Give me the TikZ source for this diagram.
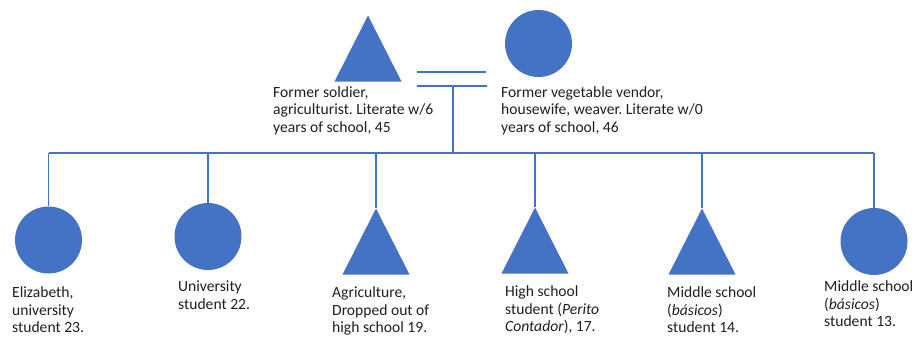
\documentclass[tikz,border=0pt]{standalone}
\usepackage{fontspec}
\setmainfont{Carlito}
\frenchspacing
\usetikzlibrary{shapes.geometric}
\definecolor{kinblue}{HTML}{4472C4}
\definecolor{kintext}{HTML}{1F1F1F}
\begin{document}
\begin{tikzpicture}[x=1pt,y=-1pt,
  kinline/.style={draw=kinblue, line width=1.8pt},
  female/.style={circle, fill=kinblue, minimum size=67pt, inner sep=0pt},
  male/.style={isosceles triangle, isosceles triangle stretches,
    shape border rotate=90, fill=kinblue, minimum width=67pt,
    minimum height=66pt, inner sep=0pt, anchor=apex},
  caption/.style={align=left, anchor=north west, inner sep=0pt,
    font=\fontsize{15.6}{17.7}\selectfont, text=kintext}]
\useasboundingbox (0,0) rectangle (917,337);

% parents
\node[male] (father) at (368,15) {};
\node[female] (mother) at (538.5,43.5) {};
\node[caption] (fatherlbl) at (273,86)
  {Former soldier,\\agriculturist. Literate w/6\\years of school, 45};
\node[caption] (motherlbl) at (501,86)
  {Former vegetable vendor,\\housewife, weaver. Literate w/0\\years of school, 46};

% marriage sign and line of descent
\coordinate (ma) at (417,72);
\coordinate (mb) at (486,72);
\coordinate (mc) at (417,86);
\coordinate (md) at (487,86);
\coordinate (drop) at (453,86);
\coordinate (bar) at (453,153);
\draw[kinline] (ma) -- (mb);
\draw[kinline] (mc) -- (md);
\draw[kinline] (drop) -- (bar);

% children
\node[female] (c1) at (48.5,240) {};
\node[female] (c2) at (208,236.5) {};
\node[male] (c3) at (376,208) {};
\node[male] (c4) at (535,207) {};
\node[male] (c5) at (702,208) {};
\node[female] (c6) at (874,241.5) {};

\draw[kinline] (c1.north |- bar) -- (c6.north |- bar);
\foreach \c in {c1,c2,c6} \draw[kinline] (\c.north |- bar) -- (\c.north);
\foreach \c in {c3,c4,c5} \draw[kinline] (\c.apex |- bar) -- (\c.apex);

\node[caption] (c1lbl) at (12,286.5) {Elizabeth,\\university\\student 23.};
\node[caption] (c2lbl) at (178,280.5) {University\\student 22.};
\node[caption] (c3lbl) at (332,286.5) {Agriculture,\\Dropped out of\\high school 19.};
\node[caption] (c4lbl) at (505,285.5) {High school\\student (\textit{Perito}\\\textit{Contador}), 17.};
\node[caption] (c5lbl) at (667,286.5) {Middle school\\(\textit{básicos})\\student 14.};
\node[caption] (c6lbl) at (824,280.5) {Middle school\\(\textit{básicos})\\student 13.};
\end{tikzpicture}
\end{document}
